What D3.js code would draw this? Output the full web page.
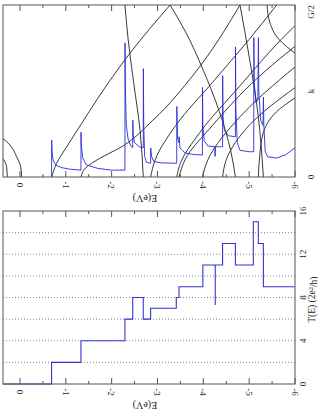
<!DOCTYPE html>
<html>
<head>
<meta charset="utf-8">
<script src="https://cdn.jsdelivr.net/npm/d3@7"></script>
<style>
  body { margin: 0; background: #fff; }
  svg text { font-family: "Liberation Serif", "DejaVu Serif", serif; fill: #222; }
</style>
</head>
<body>
<div id="chart"></div>
<script>
// E axis ticks (eV)
const energyTicks = [0, -1, -2, -3, -4, -5, -6];
const tTicks = [0, 4, 8, 12, 16];

// band structure, each band as [E, k/(G/2)] pairs
const bands = [
  [[0.277, 0], [0.282, 0.03], [0.29, 0.06], [0.33, 0.09], [0.378, 0.109]],
  [[-0.037, 0], [-0.015, 0.06], [0.072, 0.118], [0.218, 0.186], [0.378, 0.225]],
  [[-0.692, 0], [-0.8, 0.08], [-1.02, 0.176], [-1.347, 0.312], [-1.675, 0.448], [-2.4, 0.72], [-3.275, 1]],
  [[-1.332, 0], [-1.42, 0.05], [-1.75, 0.11], [-2.18, 0.17], [-2.9, 0.33], [-3.8, 0.6], [-4.8, 1]],
  [[-2.29, 1], [-2.36, 0.8], [-2.48, 0.55], [-2.62, 0.27], [-2.69, 0]],
  [[-3.275, 1], [-3.6, 0.85], [-4.0, 0.62], [-4.35, 0.38], [-4.6, 0.15], [-4.70, 0]],
  [[-2.85, 0], [-2.95, 0.1], [-3.4, 0.3], [-4.2, 0.55], [-5.0, 0.8], [-5.6, 1]],
  [[-3.42, 0], [-3.5, 0.08], [-3.9, 0.25], [-4.8, 0.53], [-5.7, 0.8], [-6, 0.88]],
  [[-3.47, 0], [-3.6, 0.1], [-4.2, 0.3], [-5.2, 0.58], [-6, 0.76]],
  [[-3.98, 0], [-4.1, 0.1], [-4.8, 0.35], [-6, 0.64]],
  [[-4.8, 1], [-5.0, 0.7], [-5.2, 0.35], [-5.31, 0]],
  [[-4.42, 0], [-4.5, 0.1], [-5.0, 0.3], [-6, 0.52]],
  [[-5.2, 0], [-5.23, 0.12], [-5.3, 0.25], [-5.6, 0.38], [-6, 0.46]],
  [[-5.39, 1], [-5.45, 0.9], [-5.65, 0.8], [-6, 0.72]]
];

// density of states like trace in upper panel, [E, value]
const dos = [
  [-0.69, 0], [-0.692, 0.215], [-0.70, 0.15], [-0.72, 0.10], [-0.78, 0.07], [-0.9, 0.055], [-1.1, 0.045], [-1.33, 0.04],
  [-1.332, 0.26], [-1.34, 0.18], [-1.37, 0.11], [-1.45, 0.07], [-1.7, 0.05], [-2.0, 0.04], [-2.29, 0.04],
  [-2.292, 0.78], [-2.30, 0.5], [-2.32, 0.3], [-2.36, 0.22], [-2.42, 0.18], [-2.46, 0.17],
  [-2.462, 0.33], [-2.47, 0.25], [-2.5, 0.2], [-2.6, 0.176], [-2.69, 0.17],
  [-2.692, 0.63], [-2.70, 0.3], [-2.72, 0.12], [-2.76, 0.085], [-2.85, 0.08],
  [-2.852, 0.169], [-2.87, 0.12], [-2.92, 0.09], [-3.1, 0.082], [-3.42, 0.08],
  [-3.422, 0.41], [-3.44, 0.22], [-3.47, 0.2], [-3.472, 0.234], [-3.49, 0.17], [-3.6, 0.14], [-3.8, 0.13], [-3.98, 0.128],
  [-3.982, 0.52], [-3.99, 0.3], [-4.02, 0.21], [-4.1, 0.18], [-4.25, 0.176], [-4.258, 0.12], [-4.265, 0.176], [-4.42, 0.176],
  [-4.422, 0.59], [-4.43, 0.35], [-4.46, 0.27], [-4.55, 0.24], [-4.70, 0.234],
  [-4.702, 0.756], [-4.71, 0.4], [-4.74, 0.2], [-4.8, 0.155], [-5.0, 0.147], [-5.10, 0.147],
  [-5.102, 0.81], [-5.11, 0.55], [-5.15, 0.43], [-5.19, 0.45], [-5.202, 0.81], [-5.21, 0.5], [-5.25, 0.33], [-5.30, 0.3],
  [-5.312, 0.465], [-5.32, 0.3], [-5.35, 0.15], [-5.4, 0.118], [-5.6, 0.11], [-5.8, 0.13], [-6, 0.17]
];

// transmission steps: energy of each step edge and T after it
const stepE = [0.37, -0.69, -1.33, -2.29, -2.46, -2.69, -2.85, -3.41, -3.47, -3.99, -4.42, -4.70, -5.09, -5.20, -5.31, -6];
const stepT = [0, 2, 4, 6, 8, 6, 7, 8, 9, 11, 13, 11, 15, 13, 9];
// narrow dip inside the T=11 plateau
const dipE = -4.26, dipT = 7.3;

const W = 318, H = 410;
const svg = d3.select("#chart").append("svg").attr("width", W).attr("height", H);

const x = d3.scaleLinear().domain([0.37, -6]).range([3, 295]);
const panelTop = { y0: 5, y1: 177 };
const panelBot = { y0: 211, y1: 384 };
const yk = d3.scaleLinear().domain([0, 1]).range([panelTop.y1, panelTop.y0]);
const yT = d3.scaleLinear().domain([0, 16]).range([panelBot.y1, panelBot.y0]);

svg.append("clipPath").attr("id", "clipTop").append("rect")
  .attr("x", 3).attr("y", panelTop.y0).attr("width", 292).attr("height", panelTop.y1 - panelTop.y0);

// ---------- upper panel ----------
const gTop = svg.append("g");
const bandLine = d3.line().x(d => x(d[0])).y(d => yk(d[1])).curve(d3.curveMonotoneY);
gTop.append("g").attr("clip-path", "url(#clipTop)")
  .selectAll("path.band").data(bands).enter().append("path")
  .attr("class", "band")
  .attr("d", d => bandLine(d[0][1] > d[d.length - 1][1] ? d.slice().reverse() : d))
  .attr("fill", "none").attr("stroke", "#222").attr("stroke-width", 0.9);

gTop.append("path").datum(dos)
  .attr("d", d3.line().x(d => x(d[0])).y(d => yk(d[1])))
  .attr("fill", "none").attr("stroke", "#2b2bd9").attr("stroke-width", 0.9);

// ---------- lower panel ----------
const gBot = svg.append("g");
gBot.selectAll("line.grid").data(d3.range(2, 16, 2)).enter().append("line")
  .attr("x1", 3).attr("x2", 295).attr("y1", d => yT(d)).attr("y2", d => yT(d))
  .attr("stroke", "#666").attr("stroke-width", 0.8).attr("stroke-dasharray", "1,2");

const stepPts = [];
stepT.forEach((t, i) => {
  stepPts.push([stepE[i], t], [stepE[i + 1], t]);
});
gBot.append("path").datum(stepPts)
  .attr("d", d3.line().x(d => x(d[0])).y(d => yT(d[1])))
  .attr("fill", "none").attr("stroke", "#3535d0").attr("stroke-width", 1.1);
gBot.append("line")
  .attr("x1", x(dipE)).attr("x2", x(dipE)).attr("y1", yT(11)).attr("y2", yT(dipT))
  .attr("stroke", "#3535d0").attr("stroke-width", 1.1);

// ---------- frames, ticks, labels ----------
function frame(p) {
  svg.append("rect").attr("x", 3).attr("y", p.y0).attr("width", 292).attr("height", p.y1 - p.y0)
    .attr("fill", "none").attr("stroke", "#555").attr("stroke-width", 1);
  const minor = d3.range(0, -6.01, -0.5);
  minor.forEach(e => {
    const len = Number.isInteger(e) ? 6 : 3;
    svg.append("line").attr("x1", x(e)).attr("x2", x(e)).attr("y1", p.y0).attr("y2", p.y0 + len)
      .attr("stroke", "#555");
    svg.append("line").attr("x1", x(e)).attr("x2", x(e)).attr("y1", p.y1).attr("y2", p.y1 - len)
      .attr("stroke", "#555");
  });
  energyTicks.forEach(e => {
    svg.append("text").attr("transform", `translate(${x(e)},${p.y1 + 8}) rotate(90)`)
      .attr("text-anchor", "middle").attr("dy", "0.35em").attr("font-size", 9).text(e);
  });
  svg.append("text").attr("transform", `translate(145,${p.y1 + 21}) rotate(180)`)
    .attr("text-anchor", "middle").attr("dy", "0.35em").attr("font-size", 10).text("E(eV)");
}
frame(panelTop);
frame(panelBot);

[["0", 0], ["k", 0.5], ["G/2", 0.96]].forEach(([t, v]) => {
  svg.append("text").attr("transform", `translate(311,${yk(v)}) rotate(-90)`)
    .attr("text-anchor", "middle").attr("dy", "0.35em").attr("font-size", 9).text(t);
});
tTicks.forEach(t => {
  svg.append("text").attr("transform", `translate(303,${yT(t)}) rotate(-90)`)
    .attr("text-anchor", "middle").attr("dy", "0.35em").attr("font-size", 9).text(t);
});
const tl = svg.append("text").attr("transform", `translate(312,${yT(7.8)}) rotate(-90)`)
  .attr("text-anchor", "middle").attr("dy", "0.35em").attr("font-size", 9.5);
tl.append("tspan").text("T(E) (2e");
tl.append("tspan").attr("dy", "-0.4em").attr("font-size", 6.5).text("2");
tl.append("tspan").attr("dy", "0.4em").text("/h)");
</script>
</body>
</html>
